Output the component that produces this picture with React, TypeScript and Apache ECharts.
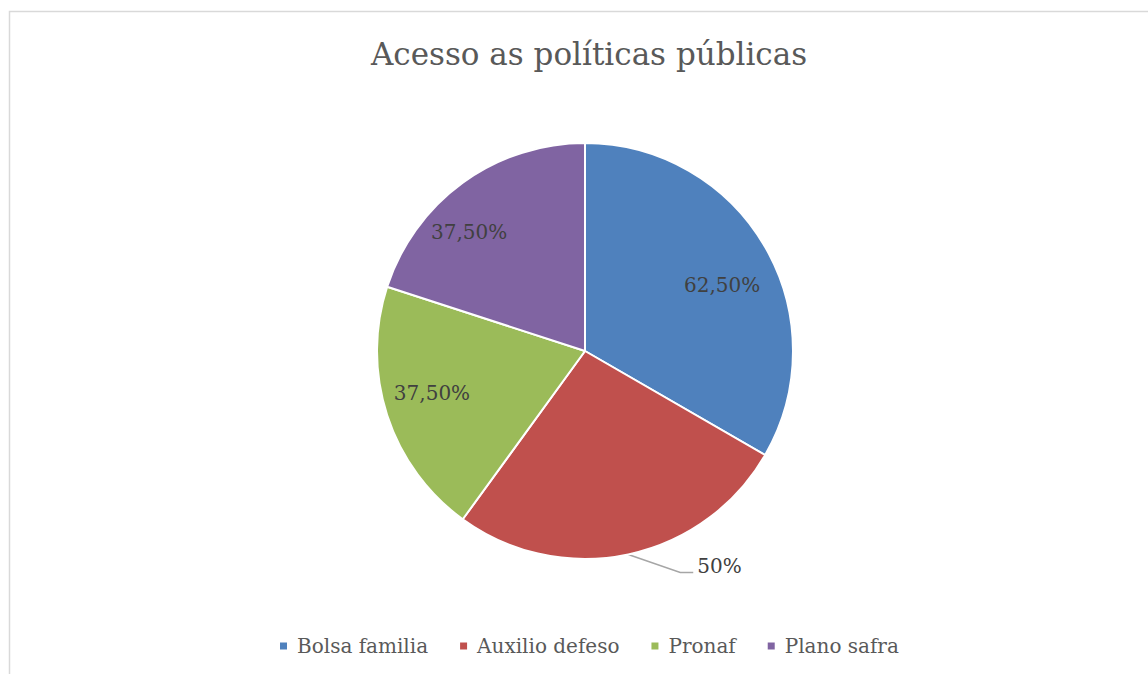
import React, { useEffect, useRef } from "react";
import * as echarts from "echarts";

const categories = ["Bolsa familia", "Auxilio defeso", "Pronaf", "Plano safra"];
const values = [62.5, 50, 37.5, 37.5];
const valueLabels = ["62,50%", "50%", "37,50%", "37,50%"];
const colors = ["#4F81BD", "#C0504D", "#9BBB59", "#8064A2"];
const insideLabel = [true, false, true, true];

const FONT = "'DejaVu Serif', serif";
const TEXT = "#595959";
// small nudges so inside labels sit where the reference's best-fit placed them
const labelNudge = [
  [-4, 15],
  [0, 0],
  [2, -8],
  [-20, 13],
];

export default function App() {
  const ref = useRef<HTMLDivElement>(null);
  useEffect(() => {
    document.body.style.margin = "0";
    const chart = echarts.init(ref.current!, undefined, { renderer: "svg" });
    const mainData = categories.map((name, i) => ({
      name,
      value: values[i],
      itemStyle: { color: colors[i] },
      label: insideLabel[i]
        ? { show: false }
        : {
            show: true,
            position: "outside",
            formatter: valueLabels[i],
            fontFamily: FONT,
            fontSize: 20,
            color: "#404040",
          },
      labelLine: { show: !insideLabel[i], lineStyle: { color: "#a6a6a6", width: 1.5 } },
    }));
    const ringData = categories.map((name, i) => ({
      name,
      value: values[i],
      itemStyle: { color: "transparent", borderWidth: 0 },
      label: {
        show: insideLabel[i],
        position: "inside",
        formatter: valueLabels[i],
        fontFamily: FONT,
        fontSize: 20,
        color: "#404040",
      },
    }));
    chart.setOption({
      animation: false,
      backgroundColor: "#ffffff",
      title: {
        text: "Acesso as políticas públicas",
        left: 584,
        textAlign: "center",
        top: 33,
        textStyle: { fontFamily: FONT, fontSize: 31, fontWeight: "normal", color: TEXT },
      },
      legend: {
        data: categories,
        bottom: 13,
        left: 273,
        itemWidth: 9,
        itemHeight: 9,
        itemGap: 30,
        icon: "rect",
        textStyle: { fontFamily: FONT, fontSize: 20, color: TEXT, padding: [0, 0, 0, 4] },
      },
      graphic: [
        {
          type: "rect",
          shape: { x: 9.5, y: 11.5, width: 1300, height: 800 },
          style: { fill: "none", stroke: "#d9d9d9", lineWidth: 1.5 },
          silent: true,
          z: -10,
        },
      ],
      series: [
        {
          type: "pie",
          center: [585, 351],
          radius: [0, 208],
          startAngle: 90,
          clockwise: true,
          avoidLabelOverlap: false,
          itemStyle: { borderColor: "#ffffff", borderWidth: 2 },
          emphasis: { disabled: true },
          data: mainData,
          labelLayout: (params: any) => {
            const pts = params.labelLinePoints;
            if (!pts) return {};
            const p0 = pts[0];
            return {
              x: p0[0] + 69,
              y: p0[1] + 12,
              align: "left",
              verticalAlign: "middle",
              labelLinePoints: [p0, [p0[0] + 52, p0[1] + 18], [p0[0] + 65, p0[1] + 18]],
            };
          },
        },
        {
          type: "pie",
          center: [585, 351],
          radius: [112, 208],
          startAngle: 90,
          clockwise: true,
          silent: true,
          avoidLabelOverlap: false,
          labelLine: { show: false },
          data: ringData,
          labelLayout: (params: any) => {
            const n = labelNudge[params.dataIndex] || [0, 0];
            return { dx: n[0], dy: n[1] };
          },
        },
      ],
    });
    return () => chart.dispose();
  }, []);
  return <div ref={ref} style={{ width: 1148, height: 674 }} />;
}
